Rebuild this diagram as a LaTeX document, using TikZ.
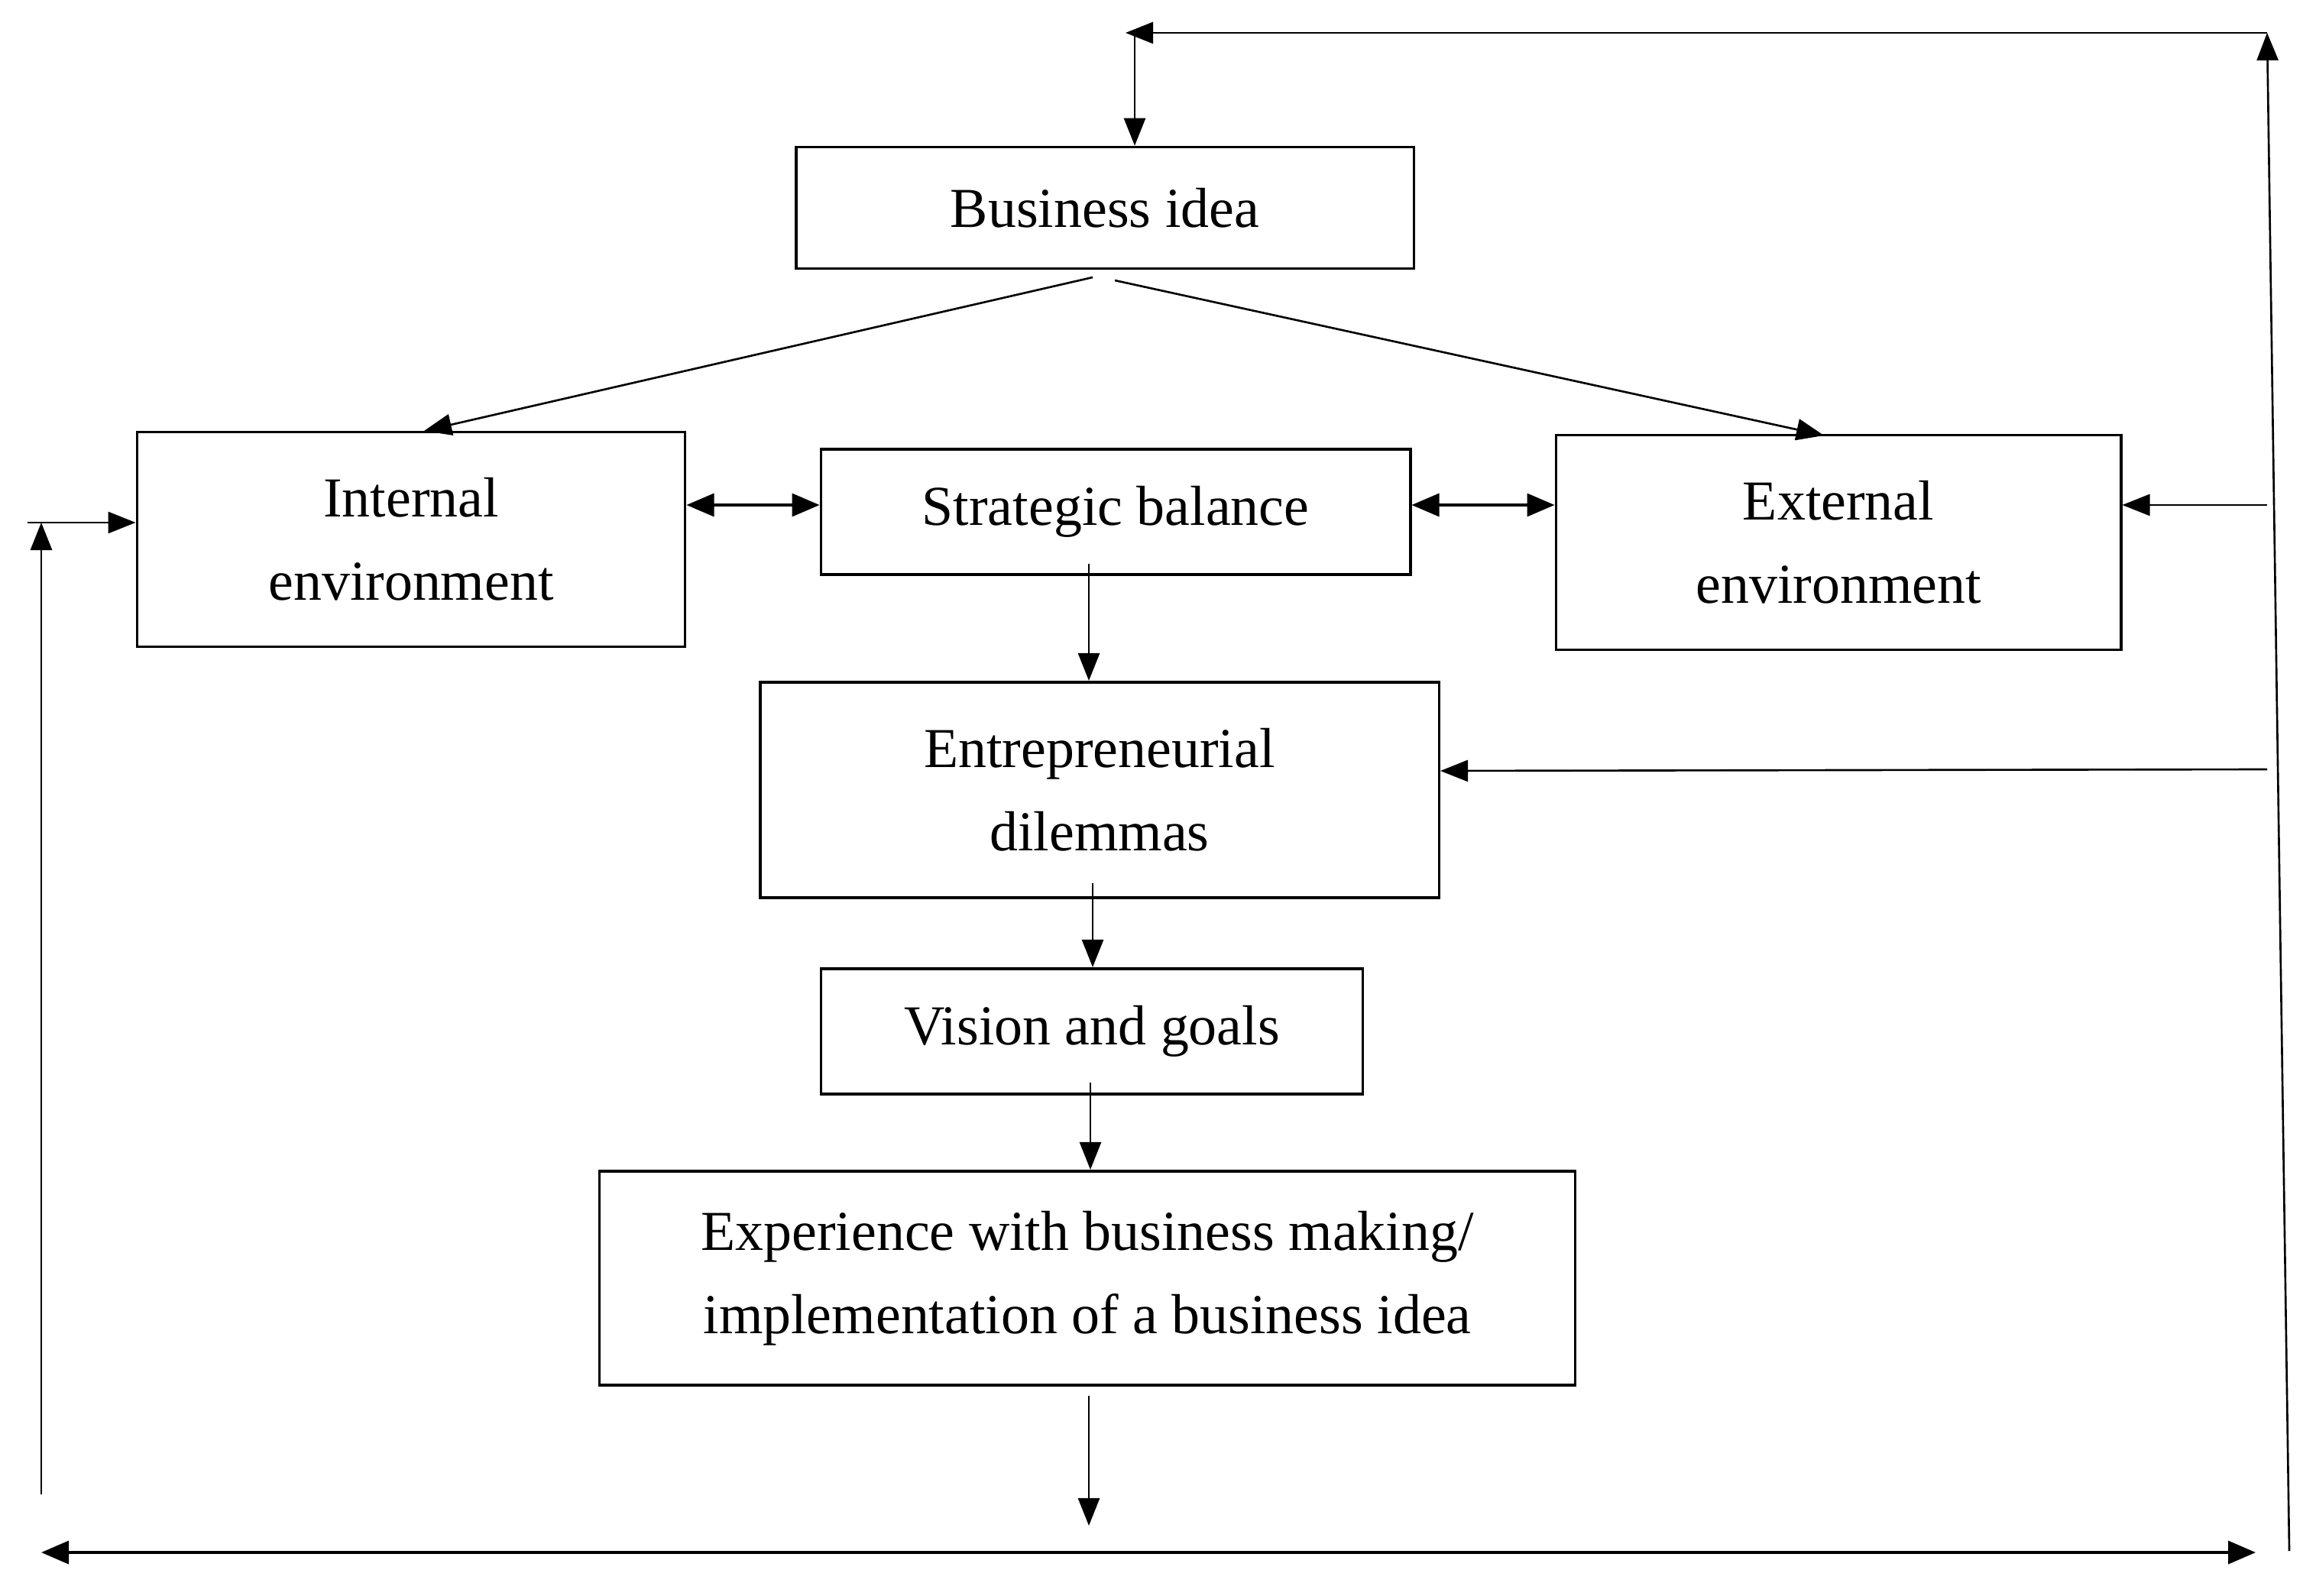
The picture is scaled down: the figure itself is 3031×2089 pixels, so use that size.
\documentclass[tikz,border=0pt]{standalone}
\usepackage{fontspec}
\setmainfont{Liberation Serif}
\usetikzlibrary{arrows.meta}
\begin{document}
\begin{tikzpicture}[x=0.01cm,y=-0.01cm,
  box/.style={draw,line width=1pt,inner sep=0pt,align=center,
    font=\fontsize{21}{31}\selectfont},
  conn/.style={line width=0.75pt,-{Triangle[length=0.36cm,width=0.28cm]}},
  dconn/.style={line width=0.9pt,{Triangle[length=0.36cm,width=0.3cm]}-{Triangle[length=0.36cm,width=0.3cm]}}]
\useasboundingbox (0,0) rectangle (3031,2089);
\node[box,minimum width=8.08cm,minimum height=1.59cm] (bi) at (1446,272) {\raisebox{-0.08cm}{Business idea}};
\node[box,minimum width=7.17cm,minimum height=2.81cm] (ie) at (538,706) {Internal\\environment};
\node[box,minimum width=7.71cm,minimum height=1.64cm] (sb) at (1460,670) {\raisebox{-0.08cm}{Strategic balance}};
\node[box,minimum width=7.39cm,minimum height=2.81cm] (ee) at (2406,710) {External\\environment};
\node[box,minimum width=8.88cm,minimum height=2.82cm] (ed) at (1439,1034) {Entrepreneurial\\dilemmas};
\node[box,minimum width=7.09cm,minimum height=1.64cm] (vg) at (1429,1350) {Vision and goals};
\node[box,minimum width=12.76cm,minimum height=2.80cm] (ex) at (1423,1673) {Experience with business making/\\implementation of a business idea};
% coordinates for free ends
\coordinate (tr) at (2967,43);
\coordinate (tl) at (1473,43);
\coordinate (tv) at (1485,43);
\coordinate (rb) at (2996,2030);
\coordinate (re) at (2967,661);
\coordinate (rd) at (2967,1007);
\coordinate (lb) at (54,1956);
\coordinate (lt) at (54,684);
\coordinate (lh) at (36,684);
\coordinate (bl) at (54,2032);
\coordinate (br) at (2952,2032);
\coordinate (exd) at (1425,1997);
\coordinate (bis1) at (1430,363);
\coordinate (bis2) at (1459,367);
% top loop
\draw[conn] (tr) -- (tl);
\draw[conn] (tv) -- (tv |- bi.north);
\draw[conn] (rb) -- (tr);
\draw[conn] (re) -- (ee.east |- re);
\draw[conn] (rd) -- (ed.east |- 0,1009);
% left loop
\draw[conn] (lb) -- (lt);
\draw[conn] (lh) -- (ie.west |- lh);
% business idea splits
\draw[conn] (bis1) -- (555,564);
\draw[conn] (bis2) -- (2387,570);
% horizontal double arrows
\draw[dconn] (ie.east |- 0,661) -- (sb.west |- 0,661);
\draw[dconn] (sb.east |- 0,661) -- (ee.west |- 0,661);
% vertical flow
\draw[conn] (1425,738) -- (1425,891);
\draw[conn] (1430,1156) -- (1430,1266);
\draw[conn] (1427,1417) -- (1427,1531);
\draw[conn] (1425,1827) -- (exd);
% bottom double arrow
\draw[dconn,line width=1.1pt] (bl) -- (br);
\end{tikzpicture}
\end{document}
